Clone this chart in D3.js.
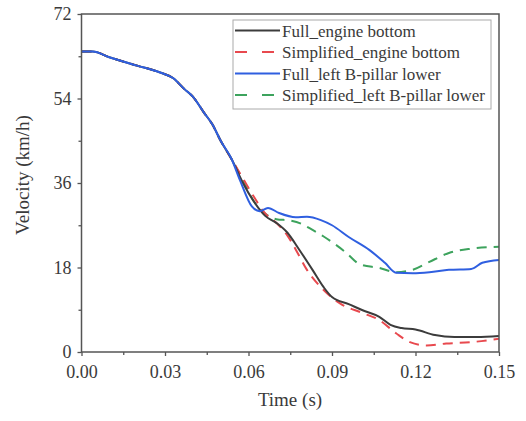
<!DOCTYPE html>
<html><head><meta charset="utf-8">
<script src="https://cdn.jsdelivr.net/npm/d3@7"></script>
<style>body{margin:0;background:#fff}</style>
</head><body>
<svg id="c" width="526" height="421"></svg>
<script>
const seriesNames = ["Full_engine bottom","Simplified_engine bottom","Full_left B-pillar lower","Simplified_left B-pillar lower"];
const commonT = [0,0.004,0.01,0.02,0.028,0.033,0.037,0.04,0.044,0.047,0.05,0.054];
const commonV = [64,64,62.8,61,59.6,58.3,56,54.4,51,48.5,45,41];
const fullEngineT = [0.058,0.062,0.066,0.07,0.074,0.078,0.083,0.087,0.09,0.096,0.101,0.107,0.111,0.115,0.12,0.127,0.134,0.142,0.15];
const fullEngineV = [36,32,29,27.5,25.4,22,17.5,13.8,11.7,10.2,8.9,7.5,5.8,5.1,4.8,3.6,3.2,3.2,3.4];
const simpEngineT = [0.058,0.062,0.066,0.07,0.074,0.077,0.081,0.087,0.093,0.101,0.107,0.113,0.118,0.124,0.131,0.14,0.15];
const simpEngineV = [37,33,29.5,27.5,24.8,21.8,17.5,13.2,10.3,8.3,6.8,4,2.1,1.4,1.8,2.1,2.8];
const fullPillarT = [0.057,0.0612,0.064,0.067,0.071,0.077,0.081,0.086,0.09,0.096,0.1035,0.109,0.113,0.119,0.125,0.132,0.14,0.144,0.15];
const fullPillarV = [36.5,31,30,30.7,29.6,28.7,28.8,28.1,27,24.5,21.7,19,16.9,16.8,17,17.5,17.7,19,19.6];
const simpPillarT = [0.058,0.062,0.066,0.07,0.075,0.079,0.083,0.087,0.091,0.095,0.1,0.107,0.113,0.119,0.125,0.132,0.14,0.15];
const simpPillarV = [36.5,32,29.5,28.3,28,27.3,26,24.6,23,21.2,18.7,17.9,17,17.5,19.2,21.1,22,22.4];
const xTicks = [0,0.03,0.06,0.09,0.12,0.15];
const yTicks = [0,18,36,54,72];
const colors = ["#3c3c3c","#e8494e","#2f5fe0","#3da35d"];
const dashes = [null,"10,7",null,"10,7"];
const legendDashes = [null,"12,15",null,"12,15"];

const svg = d3.select("#c");
const L=81.5, R=499, T=14, B=352;
const x = d3.scaleLinear().domain([0,0.15]).range([L,R]);
const y = d3.scaleLinear().domain([0,72]).range([B,T]);
const font = "Liberation Serif, Times New Roman, serif";
const txt = "#3a3a3a";

const mk = (ts,vs)=> commonT.concat(ts).map((t,i)=>[t, commonV.concat(vs)[i]]);
const data = [mk(fullEngineT,fullEngineV), mk(simpEngineT,simpEngineV), mk(fullPillarT,fullPillarV), mk(simpPillarT,simpPillarV)];
const line = d3.line().x(d=>x(d[0])).y(d=>y(d[1])).curve(d3.curveMonotoneX);

const order=[3,1,0,2];
order.forEach(i=>{
  svg.append("path").attr("d",line(data[i])).attr("fill","none")
    .attr("stroke",colors[i]).attr("stroke-width",2)
    .attr("stroke-dasharray",dashes[i]);
});

svg.append("rect").attr("x",L).attr("y",T).attr("width",R-L).attr("height",B-T)
  .attr("fill","none").attr("stroke","#555").attr("stroke-width",1.5);

const xa = svg.append("g").attr("transform",`translate(0,${B})`)
  .call(d3.axisBottom(x).tickValues(xTicks).tickFormat(d3.format(".2f")).tickSize(4).tickPadding(9));
const xm = svg.append("g").attr("transform",`translate(0,${B})`)
  .call(d3.axisBottom(x).tickValues([0.015,0.045,0.075,0.105,0.135]).tickFormat("").tickSize(3));
const ya = svg.append("g").attr("transform",`translate(${L},0)`)
  .call(d3.axisLeft(y).tickValues(yTicks).tickSize(4).tickPadding(6));
const ym = svg.append("g").attr("transform",`translate(${L},0)`)
  .call(d3.axisLeft(y).tickValues([9,27,45,63]).tickFormat("").tickSize(3));
[xa,xm,ya,ym].forEach(g=>{
  g.select(".domain").remove();
  g.selectAll("line").attr("stroke","#555").attr("stroke-width",1.3);
  g.selectAll("text").attr("font-family",font).attr("font-size",18).attr("fill",txt);
});

svg.append("text").attr("x",290).attr("y",406).attr("text-anchor","middle")
  .attr("font-family",font).attr("font-size",19).attr("fill",txt).text("Time (s)");
svg.append("text").attr("transform","translate(29,175) rotate(-90)").attr("text-anchor","middle")
  .attr("font-family",font).attr("font-size",19).attr("fill",txt).text("Velocity (km/h)");

const lg = svg.append("g");
lg.append("rect").attr("x",233).attr("y",20).attr("width",258).attr("height",89)
  .attr("fill","#fff").attr("stroke","#aaa").attr("stroke-width",1);
seriesNames.forEach((n,i)=>{
  const yy = 30.5 + i*21.5;
  lg.append("line").attr("x1",235).attr("x2",280).attr("y1",yy).attr("y2",yy)
    .attr("stroke",colors[i]).attr("stroke-width",2).attr("stroke-dasharray",legendDashes[i]);
  lg.append("text").attr("x",282).attr("y",yy+6).attr("font-family",font).attr("font-size",17)
    .attr("fill",txt).text(n);
});
</script>
</body></html>
